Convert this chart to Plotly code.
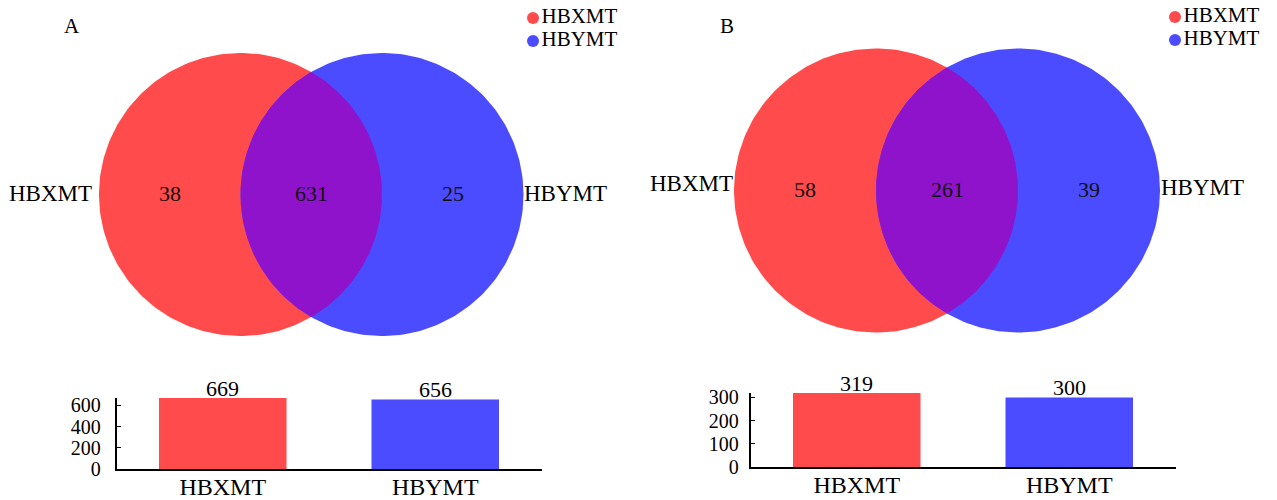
import numpy as np
import plotly.graph_objects as go

# ---- data -------------------------------------------------------------
panel_labels = ["A", "B"]
set_names = ["HBXMT", "HBYMT"]
only_x = [38, 58]        # genes found only in HBXMT
shared = [631, 261]      # genes found in both
only_y = [25, 39]        # genes found only in HBYMT
totals_x = [669, 319]    # bar values, HBXMT
totals_y = [656, 300]    # bar values, HBYMT
yticks = [[0, 200, 400, 600], [0, 100, 200, 300]]

# ---- style / layout ---------------------------------------------------
W, H = 1277, 500
RED, BLUE, PURPLE = "#FF4B4B", "#4B4BFF", "#9013CC"
FONT = "Times New Roman, Liberation Serif, serif"

# circle geometry (pixel space) for each panel
venn = [
    dict(cx1=240.5, cx2=382.0, cy=194.5, r=141.5,
         lab_l=(50, 193), lab_r=(565, 193), tag=(72, 26), leg=(533, 18)),
    dict(cx1=876.0, cx2=1018.0, cy=190.5, r=142.0,
         lab_l=(691, 183), lab_r=(1202, 187), tag=(727, 26), leg=(1175, 17)),
]
# bar panels: x-domain px, y-domain px (top, bottom), y-range max
bars = [
    dict(x0=116.5, x1=541.5, ytop=398, ybot=469, ymax=669, standoff=10),
    dict(x0=750.5, x1=1175.5, ytop=393, ybot=467, ymax=319, standoff=6),
]

fig = go.Figure()
annotations = []


def circle(cx, cy, r, n=240):
    t = np.linspace(0, 2 * np.pi, n)
    return cx + r * np.cos(t), cy + r * np.sin(t)


def lens(cx1, cx2, cy, r, n=120):
    a = (cx2 - cx1) / 2.0
    th = np.arccos(a / r)
    t1 = np.linspace(-th, th, n)                      # right arc of circle 1
    t2 = np.linspace(np.pi - th, np.pi + th, n)        # left arc of circle 2
    xs = np.concatenate([cx1 + r * np.cos(t1), cx2 + r * np.cos(t2)])
    ys = np.concatenate([cy + r * np.sin(t1), cy + r * np.sin(t2)])
    return xs, ys


for i, v in enumerate(venn):
    for cx, col in ((v["cx1"], RED), (v["cx2"], BLUE)):
        xs, ys = circle(cx, v["cy"], v["r"])
        fig.add_trace(go.Scatter(x=xs, y=ys, mode="lines", fill="toself",
                                 fillcolor=col, line=dict(width=0),
                                 hoverinfo="skip", showlegend=False,
                                 xaxis="x", yaxis="y"))
    xs, ys = lens(v["cx1"], v["cx2"], v["cy"], v["r"])
    fig.add_trace(go.Scatter(x=xs, y=ys, mode="lines", fill="toself",
                             fillcolor=PURPLE, line=dict(width=0),
                             hoverinfo="skip", showlegend=False,
                             xaxis="x", yaxis="y"))

    # region counts
    r = v["r"]
    xl = ((v["cx1"] - r) + (v["cx2"] - r)) / 2
    xm = ((v["cx2"] - r) + (v["cx1"] + r)) / 2
    xr = ((v["cx1"] + r) + (v["cx2"] + r)) / 2
    for xp, val in ((xl, only_x[i]), (xm, shared[i]), (xr, only_y[i])):
        annotations.append(dict(x=xp, y=v["cy"] - 1, xref="x", yref="y",
                                text=str(val), showarrow=False,
                                font=dict(family=FONT, size=22, color="#111")))

    # set names beside the circles
    for (px, py), name in ((v["lab_l"], set_names[0]), (v["lab_r"], set_names[1])):
        annotations.append(dict(x=px, y=py, xref="x", yref="y", text=name,
                                showarrow=False,
                                font=dict(family=FONT, size=23, color="black")))

    # panel tag
    annotations.append(dict(x=v["tag"][0], y=v["tag"][1], xref="x", yref="y",
                            text=panel_labels[i], showarrow=False,
                            font=dict(family=FONT, size=21, color="black")))

    # key: coloured dots with set names
    lx, ly = v["leg"]
    fig.add_trace(go.Scatter(x=[lx, lx], y=[ly, ly + 23], mode="markers+text",
                             marker=dict(size=12, color=[RED, BLUE]),
                             text=set_names, textposition="middle right",
                             textfont=dict(family=FONT, size=21, color="black"),
                             hoverinfo="skip", showlegend=False,
                             xaxis="x", yaxis="y"))

# ---- bar charts -------------------------------------------------------
for i, b in enumerate(bars):
    ax = str(i + 2)
    vals = [totals_x[i], totals_y[i]]
    fig.add_trace(go.Bar(x=set_names, y=vals,
                         marker=dict(color=[RED, BLUE], line=dict(width=0)),
                         width=0.6, hoverinfo="skip", showlegend=False,
                         xaxis="x" + ax, yaxis="y" + ax))
    # value labels just above each bar
    for name, val in zip(set_names, vals):
        annotations.append(dict(x=name, y=val, xref="x" + ax, yref="y" + ax,
                                text=str(val), showarrow=False,
                                yanchor="middle", yshift=10,
                                font=dict(family=FONT, size=22, color="black")))
    fig.update_layout(**{
        "xaxis" + ax: dict(domain=[b["x0"] / W, b["x1"] / W], anchor="y" + ax,
                           type="category", range=[-0.5, 1.5], automargin=False,
                           showline=True, linecolor="black", linewidth=1.5,
                           ticks="", showgrid=False, zeroline=False,
                           ticklabelstandoff=-5,
                           tickfont=dict(family=FONT, size=24, color="black")),
        "yaxis" + ax: dict(domain=[1 - b["ybot"] / H, 1 - b["ytop"] / H],
                           anchor="x" + ax, range=[0, b["ymax"]],
                           automargin=False,
                           tickvals=yticks[i], showline=True, linecolor="black",
                           linewidth=1.5, ticks="inside", ticklen=5,
                           tickcolor="black", showgrid=False, zeroline=False,
                           ticklabelstandoff=b["standoff"],
                           tickfont=dict(family=FONT, size=20, color="black")),
    })

fig.update_layout(
    template="none",
    width=W, height=H,
    margin=dict(l=0, r=0, t=0, b=0, pad=0, autoexpand=False),
    paper_bgcolor="white", plot_bgcolor="rgba(0,0,0,0)",
    xaxis=dict(domain=[0, 1], range=[0, W], visible=False, fixedrange=True,
               automargin=False),
    yaxis=dict(domain=[0, 1], range=[H, 0], visible=False, fixedrange=True,
               automargin=False),
    annotations=annotations,
    showlegend=False,
)

fig.write_html("out.html")
